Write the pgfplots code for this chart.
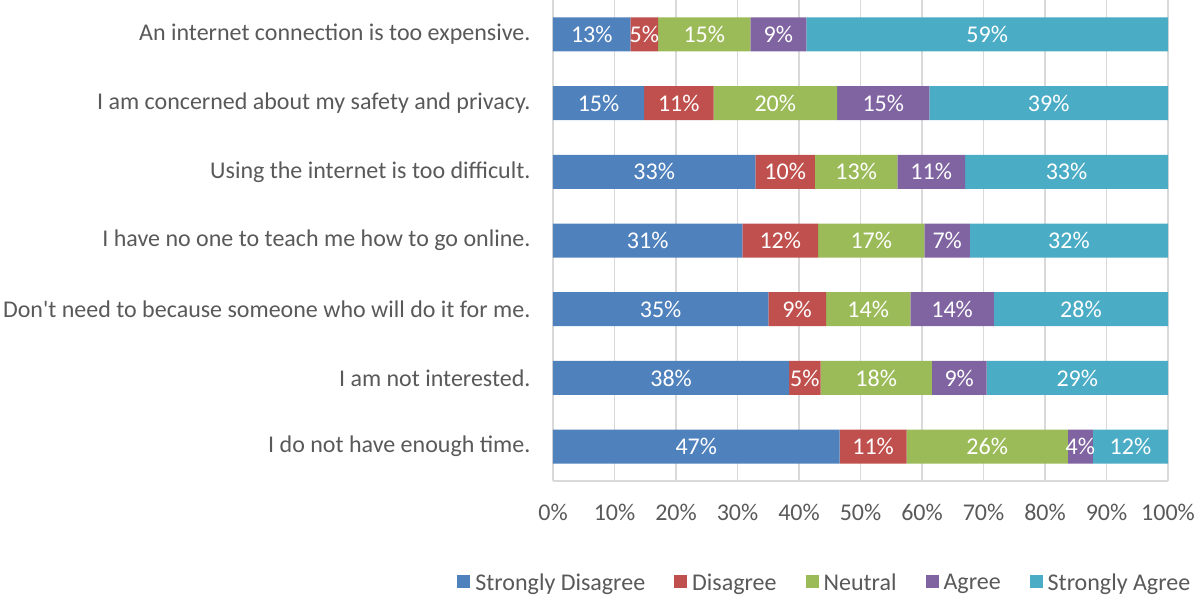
\documentclass[border=0pt]{standalone}
\usepackage{fontspec}
\setmainfont{Carlito}
\usepackage{pgfplots}
\pgfplotsset{compat=1.18}
\definecolor{c1}{HTML}{4F81BD}
\definecolor{c2}{HTML}{C0504D}
\definecolor{c3}{HTML}{9BBB59}
\definecolor{c4}{HTML}{8064A2}
\definecolor{c5}{HTML}{4BACC6}
\definecolor{txt}{HTML}{595959}
\definecolor{grd}{HTML}{D9D9D9}
\newcommand\lbl{\fontsize{24}{28}\selectfont}
\begin{document}
\begin{tikzpicture}[x=1pt,y=1pt]
\begin{axis}[
  at={(553pt,114pt)}, anchor=south west,
  scale only axis, width=615pt, height=481pt,
  xbar stacked, bar width=34pt,
  xmin=0, xmax=100, ymin=-0.5, ymax=6.5,
  xtick={0,10,...,100},
  xticklabels={0\%,10\%,20\%,30\%,40\%,50\%,60\%,70\%,80\%,90\%,100\%},
  ytick={0,...,6},
  yticklabels={I do not have enough time.,I am not interested.,Don\textquotesingle t need to because someone who will do it for me.,I have no one to teach me how to go online.,Using the internet is too difficult.,I am concerned about my safety and privacy.,An internet connection is too expensive.},
  axis lines=left,
  axis line style={draw=grd, line width=1.5pt, -},
  major tick length=0pt,
  xmajorgrids, grid style={draw=grd, line width=1.5pt},
  yticklabel style={font=\lbl, text=txt, anchor=east, xshift=-19pt},
  xticklabel style={font=\lbl, text=txt, anchor=north, yshift=-20pt},
  point meta=explicit symbolic,
  nodes near coords={\pgfplotspointmeta\%},
  every node near coord/.append style={text=white, font=\lbl, anchor=center, inner sep=0pt},
  legend columns=5,
  legend style={at={(0.442,-0.212)}, anchor=center, draw=none, font=\lbl, text=txt,
    /tikz/every even column/.append style={column sep=27pt}},
  legend image code/.code={\fill[#1] (0pt,-5pt) rectangle (13pt,8pt); \path (16pt,0pt);},
]
\addplot[fill=c1, draw=none] coordinates {(46.6,0) [47] (38.4,1) [38] (35.0,2) [35] (30.8,3) [31] (32.9,4) [33] (14.8,5) [15] (12.6,6) [13]};
\addplot[fill=c2, draw=none] coordinates {(10.9,0) [11] (5.1,1) [5] (9.4,2) [9] (12.3,3) [12] (9.7,4) [10] (11.3,5) [11] (4.5,6) [5]};
\addplot[fill=c3, draw=none] coordinates {(26.2,0) [26] (18.1,1) [18] (13.7,2) [14] (17.3,3) [17] (13.4,4) [13] (20.1,5) [20] (15.0,6) [15]};
\addplot[fill=c4, draw=none] coordinates {(4.1,0) [4] (8.9,1) [9] (13.6,2) [14] (7.4,3) [7] (11.0,4) [11] (15.0,5) [15] (9.1,6) [9]};
\addplot[fill=c5, draw=none] coordinates {(12.2,0) [12] (29.5,1) [29] (28.3,2) [28] (32.2,3) [32] (33.0,4) [33] (38.8,5) [39] (58.8,6) [59]};
\legend{Strongly Disagree,Disagree,Neutral,Agree,Strongly Agree}
\end{axis}
\pgfresetboundingbox
\useasboundingbox (0,0) rectangle (1197,595);
\end{tikzpicture}
\end{document}
